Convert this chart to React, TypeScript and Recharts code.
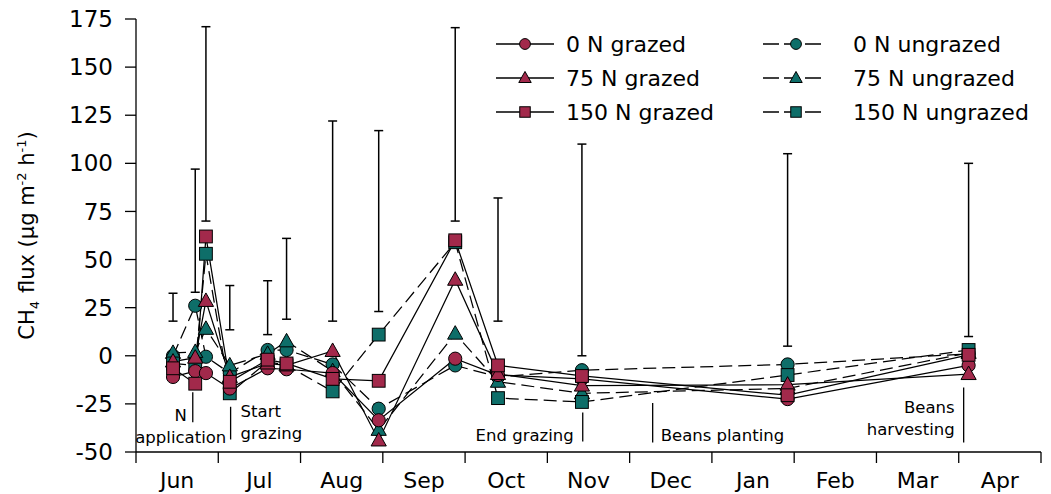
import React from 'react';
import { ComposedChart, Line, XAxis, YAxis, ErrorBar, ReferenceLine } from 'recharts';

// months shown along the x axis, each one slot wide (0 = start of June)
const months = ['Jun', 'Jul', 'Aug', 'Sep', 'Oct', 'Nov', 'Dec', 'Jan', 'Feb', 'Mar', 'Apr'];

// sampling dates, as fractional months since 1 June
const sampleTimes = [0.45, 0.72, 0.85, 1.14, 1.6, 1.83, 2.39, 2.95, 3.88, 4.4, 5.42, 7.92, 10.12];

// CH4 flux (ug m-2 h-1)
const n0Grazed = [-11, -8, -9, -17, -6.5, -7, -9, -33.5, -1.5, -10, -12, -22.5, -5];
const n75Grazed = [-3, -1, 28.5, -11, -4, -5, 2.5, -44, 39.5, -9.5, -15.5, -15, -9.5];
const n150Grazed = [-6.5, -14.5, 62, -13.5, -2, -4, -12, -13, 60, -5, -10.5, -20.5, 0.5];
const n0Ungrazed = [0, 26, -0.5, -9, 3, 3, -4.5, -27.5, -5, -11, -7.5, -4.5, 1];
const n75Ungrazed = [1.5, 2, 14, -5, 1, 7.5, -8, -38.5, 11.5, -13.5, -19.5, -17, 1.5];
const n150Ungrazed = [-4, -5, 53, -19.5, -3, -5, -18.5, 11, 59, -22, -24, -10, 3];

// floating bars above each date (lower and upper ends)
const barLow = [18, 33, 70, 13.5, 11, 19, 18, 23, 70, 18, 0, 5, 10];
const barHigh = [32.5, 97, 171, 36.5, 39, 61, 122, 117, 170.5, 82, 110, 105, 100];

const yTicks = [-50, -25, 0, 25, 50, 75, 100, 125, 150, 175];

// field events marked under the curves
const eventNames = [['N', 'application'], ['Start', 'grazing'], ['End grazing'], ['Beans planting'], ['Beans', 'harvesting']];
const eventTimes = [0.69, 1.15, 5.43, 6.28, 10.06];
const eventTops = [-19, -26.5, -29.5, -24.5, -16.5];
const eventBottoms = [-34.5, -43.5, -44.5, -45, -45];

const GRAZED = '#A2294B';
const UNGRAZED = '#0E6E69';
const FONT = "'DejaVu Sans', sans-serif";

const seriesList = [
  { key: 'u0', name: '0 N ungrazed', values: n0Ungrazed, shape: 'circle', color: UNGRAZED, dashed: true },
  { key: 'u75', name: '75 N ungrazed', values: n75Ungrazed, shape: 'triangle', color: UNGRAZED, dashed: true },
  { key: 'u150', name: '150 N ungrazed', values: n150Ungrazed, shape: 'square', color: UNGRAZED, dashed: true },
  { key: 'g0', name: '0 N grazed', values: n0Grazed, shape: 'circle', color: GRAZED, dashed: false },
  { key: 'g75', name: '75 N grazed', values: n75Grazed, shape: 'triangle', color: GRAZED, dashed: false },
  { key: 'g150', name: '150 N grazed', values: n150Grazed, shape: 'square', color: GRAZED, dashed: false },
];

const tableData = sampleTimes.map((t, i) => {
  const row: Record<string, number> = { t };
  seriesList.forEach(s => { row[s.key] = s.values[i]; });
  row.mid = (barLow[i] + barHigh[i]) / 2;
  row.err = (barHigh[i] - barLow[i]) / 2;
  return row;
});

const xTicks = months.flatMap((_, i) => [i, i + 0.5]).concat(months.length);

const Marker = ({ cx, cy, shape, fill, size = 1 }: any) => {
  if (cx == null || cy == null) return null;
  if (shape === 'circle') {
    return <circle cx={cx} cy={cy} r={6.6 * size} fill={fill} stroke="#000" strokeWidth={1} />;
  }
  if (shape === 'square') {
    const h = 6.4 * size;
    return <rect x={cx - h} y={cy - h} width={2 * h} height={2 * h} fill={fill} stroke="#000" strokeWidth={1} />;
  }
  const w = 7.6 * size;
  return (
    <polygon
      points={`${cx},${cy - 8 * size} ${cx + w},${cy + 5.5 * size} ${cx - w},${cy + 5.5 * size}`}
      fill={fill}
      stroke="#000"
      strokeWidth={1}
    />
  );
};

const MonthTick = (props: any) => {
  const { x, y, payload } = props;
  const v = payload.value;
  if (Number.isInteger(v)) {
    return <line x1={x} x2={x} y1={y - 11} y2={y} stroke="#000" strokeWidth={1.3} />;
  }
  return (
    <text x={x} y={y + 25} textAnchor="middle" fontSize={22} fill="#000" fontFamily={FONT}>
      {months[Math.floor(v)]}
    </text>
  );
};

const YLabel = (props: any) => {
  const vb = props.viewBox;
  const cx = vb.x + 27;
  const cy = vb.y + vb.height / 2;
  return (
    <text
      transform={`translate(${cx},${cy}) rotate(-90)`}
      textAnchor="middle"
      fontSize={21}
      fill="#000"
      fontFamily={FONT}
      dy={7}
    >
      CH<tspan fontSize={13} dy={5}>4</tspan>
      <tspan dy={-5} dx={8}>flux (µg m</tspan>
      <tspan fontSize={13} dy={-8}>-2</tspan>
      <tspan dy={8}> h</tspan>
      <tspan fontSize={13} dy={-8}>-1</tspan>
      <tspan dy={8}>)</tspan>
    </text>
  );
};

// text placement for each event label: anchor, horizontal offset, baseline of last line vs line bottom
const eventAnchor = ['middle', 'start', 'end', 'start', 'end'];
const eventDx = [-12, 10, -9, 8, -9];
const eventDy = [21, 0, 0, -1, -7];

const eventLabel = (i: number) => (props: any) => {
  const vb = props.viewBox;
  const lines = eventNames[i];
  const baseBottom = vb.y + vb.height + eventDy[i];
  return (
    <g>
      {lines.map((ln, k) => (
        <text
          key={k}
          x={vb.x + eventDx[i]}
          y={baseBottom - (lines.length - 1 - k) * 22}
          textAnchor={eventAnchor[i]}
          fontSize={16.5}
          fill="#000"
          fontFamily={FONT}
        >
          {ln}
        </text>
      ))}
    </g>
  );
};

const LegendBox = () => {
  const rowY = [20, 54, 88];
  return (
    <svg width={560} height={110} style={{ position: 'absolute', left: 490, top: 24, fontFamily: FONT }}>
      {seriesList.map(s => {
        const col = s.dashed ? 1 : 0;
        const row = ['circle', 'triangle', 'square'].indexOf(s.shape);
        const x0 = col === 0 ? 6 : 273;
        const y = rowY[row];
        return (
          <g key={s.key}>
            <line
              x1={x0}
              x2={x0 + 58}
              y1={y}
              y2={y}
              stroke="#000"
              strokeWidth={1.3}
              strokeDasharray={s.dashed ? '16 5' : undefined}
            />
            <Marker cx={x0 + 29 + (col ? 4 : 0)} cy={y} shape={s.shape} fill={s.color} size={0.82} />
            <text x={col ? 363 : 76} y={y + 8} fontSize={22} fill="#000">{s.name}</text>
          </g>
        );
      })}
    </svg>
  );
};

export default function App() {
  return (
    <div style={{ position: 'absolute', left: 0, top: 0, width: 1051, height: 494, background: '#fff', fontFamily: FONT }}>
      <ComposedChart width={1051} height={494} data={tableData} margin={{ top: 19, right: 10, bottom: 0, left: 0 }}>
        <XAxis
          type="number"
          dataKey="t"
          domain={[0, months.length]}
          ticks={xTicks}
          interval={0}
          tickLine={false}
          tickSize={11}
          tickMargin={0}
          tick={<MonthTick />}
          height={42}
          axisLine={{ stroke: '#000', strokeWidth: 1.3 }}
        />
        <YAxis
          type="number"
          domain={[-50, 175]}
          ticks={yTicks}
          interval={0}
          width={136}
          tickSize={11}
          tickMargin={12}
          tick={{ fontSize: 23, fill: '#000', fontFamily: FONT }}
          tickLine={{ stroke: '#000', strokeWidth: 1.3 }}
          axisLine={{ stroke: '#000', strokeWidth: 1.3 }}
          label={YLabel}
        />
        {eventTimes.map((t, i) => (
          <ReferenceLine
            key={`ev-${i}`}
            segment={[{ x: t, y: eventTops[i] }, { x: t, y: eventBottoms[i] }]}
            stroke="#000"
            strokeWidth={1.3}
            label={eventLabel(i)}
          />
        ))}
        <Line dataKey="mid" stroke="none" dot={false} activeDot={false} isAnimationActive={false} legendType="none">
          <ErrorBar dataKey="err" direction="y" width={4.5} stroke="#000" strokeWidth={1.5} />
        </Line>
        {seriesList.map(s => (
          <Line
            key={s.key}
            dataKey={s.key}
            name={s.name}
            stroke="#000"
            strokeWidth={1.25}
            strokeDasharray={s.dashed ? '13 6' : undefined}
            isAnimationActive={false}
            activeDot={false}
            dot={(p: any) => <Marker key={`${s.key}-${p.index}`} cx={p.cx} cy={p.cy} shape={s.shape} fill={s.color} />}
          />
        ))}
      </ComposedChart>
      <LegendBox />
    </div>
  );
}
